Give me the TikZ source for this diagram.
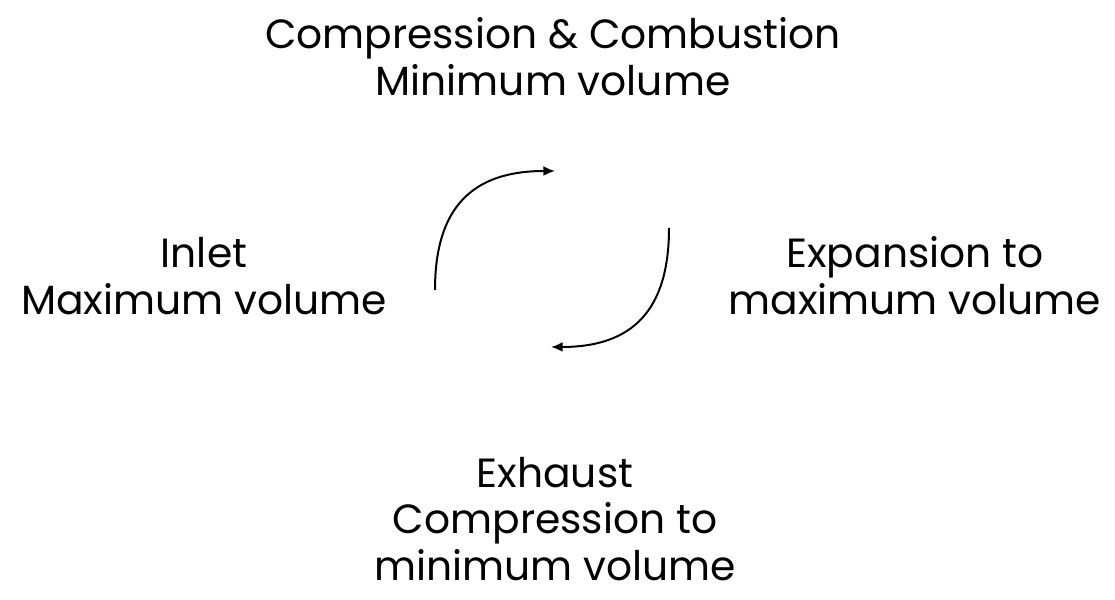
\documentclass[tikz,border=0pt]{standalone}
\usepackage{fontspec}
\setmainfont{Poppins}
\usetikzlibrary{arrows.meta}
\tikzset{
  lbl/.style={align=center,font=\fontsize{34.8}{40}\selectfont,inner sep=0pt},
  cyc/.style={line width=1.7pt,-{Latex[length=10pt,width=8.5pt]}}
}
\begin{document}
\begin{tikzpicture}[x=0.03cm,y=0.03cm]
\useasboundingbox (0,0) rectangle (1115,600);
\node[lbl] (comb) at (553,543) {Compression \& Combustion\\Minimum volume};
\node[lbl] (inlet) at (204,324) {Inlet\\Maximum volume};
\node[lbl] (expn) at (915,324) {Expansion to\\maximum volume};
\node[lbl] (exh) at (555,81) {Exhaust\\Compression to\\minimum volume};
\coordinate (a) at (435,310);
\coordinate (b) at (555,429);
\coordinate (c) at (669,372);
\coordinate (d) at (551,253);
\draw[cyc] (a) to[out=90,in=180,looseness=1.25] (b);
\draw[cyc] (c) to[out=-90,in=0,looseness=1.25] (d);
\end{tikzpicture}
\end{document}
